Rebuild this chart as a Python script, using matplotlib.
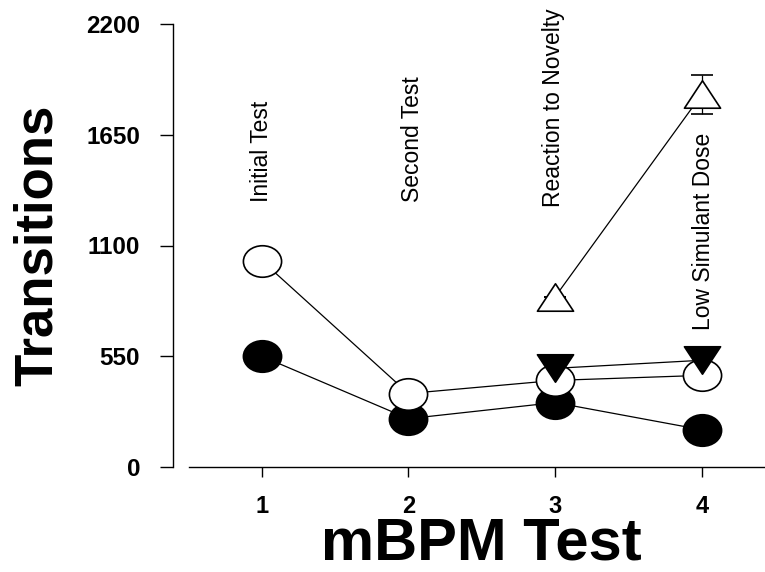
import matplotlib
matplotlib.use('Agg')
import matplotlib.pyplot as plt
from matplotlib.path import Path
import numpy as np

plt.rcParams['font.family'] = ['Liberation Sans', 'DejaVu Sans']

# data
tests = [1, 2, 3, 4]
open_circles = [1025, 365, 430, 455]
filled_circles = [550, 240, 320, 185]
tri_x = [3, 4]
down_tri = [490, 530]
up_tri = [845, 1850]
up_tri_err = [0, 95]

yticks = [0, 550, 1100, 1650, 2200]
notes = ['Initial Test', 'Second Test', 'Reaction to Novelty', 'Low Simulant Dose']
note_x = [1.0, 2.03, 2.99, 4.01]
note_y = [1316, 1316, 1291, 680]

# slightly squashed markers, like the scanned figure
circ = Path.unit_circle()
ellipse = Path(circ.vertices * [1, 0.825], circ.codes)
tri_up = Path([(0, 0.76), (-1, -0.76), (1, -0.76), (0, 0.76)], closed=True)
tri_dn = Path([(0, -0.76), (-1, 0.76), (1, 0.76), (0, -0.76)], closed=True)

fig = plt.figure(figsize=(7.65, 5.72), dpi=100)
ax = fig.add_axes([189 / 765, 105 / 572, 1 - 189 / 765, 443 / 572])

lw = 0.9
ax.plot(tests, filled_circles, color='black', lw=lw, marker=ellipse,
        ms=27.5, mfc='black', mec='black', mew=1.2, zorder=3)
ax.plot(tests, open_circles, color='black', lw=lw, marker=ellipse,
        ms=27.5, mfc='white', mec='black', mew=1.2, zorder=4)
ax.plot(tri_x, down_tri, color='black', lw=lw, marker=tri_dn,
        ms=26, mfc='black', mec='black', mew=1.2, zorder=5)
ax.errorbar(tri_x, up_tri, yerr=up_tri_err, color='black', lw=lw,
            elinewidth=lw, capsize=8, capthick=lw, marker=tri_up,
            ms=26, mfc='white', mec='black', mew=1.2, zorder=5)

for t, xx, yy in zip(notes, note_x, note_y):
    ax.text(xx, yy, t, rotation=90, ha='center', va='bottom', fontsize=16.5)

ax.set_xlim(0.504, 4.431)
ax.set_ylim(0, 2200)
ax.set_xticks(tests)
ax.set_yticks(yticks)
ax.spines['top'].set_visible(False)
ax.spines['right'].set_visible(False)
ax.spines['left'].set_position(('outward', 11.7))
ax.spines['left'].set_linewidth(1.0)
ax.spines['bottom'].set_linewidth(1.0)
ax.tick_params(axis='y', direction='out', length=9.4, width=1.0, pad=14,
               labelsize=17.5)
ax.tick_params(axis='x', direction='out', length=7.2, width=1.0, pad=13,
               labelsize=17)
for lab in ax.get_xticklabels() + ax.get_yticklabels():
    lab.set_fontweight('bold')

fig.text(38 / 765, 1 - 245 / 572, 'Transitions', rotation=90, ha='center',
         va='center', fontsize=38, fontweight='bold')
fig.text(481 / 765, (572 - 559) / 572, 'mBPM Test', ha='center',
         va='baseline', fontsize=43, fontweight='bold')

fig.savefig('out.png', dpi=100)
